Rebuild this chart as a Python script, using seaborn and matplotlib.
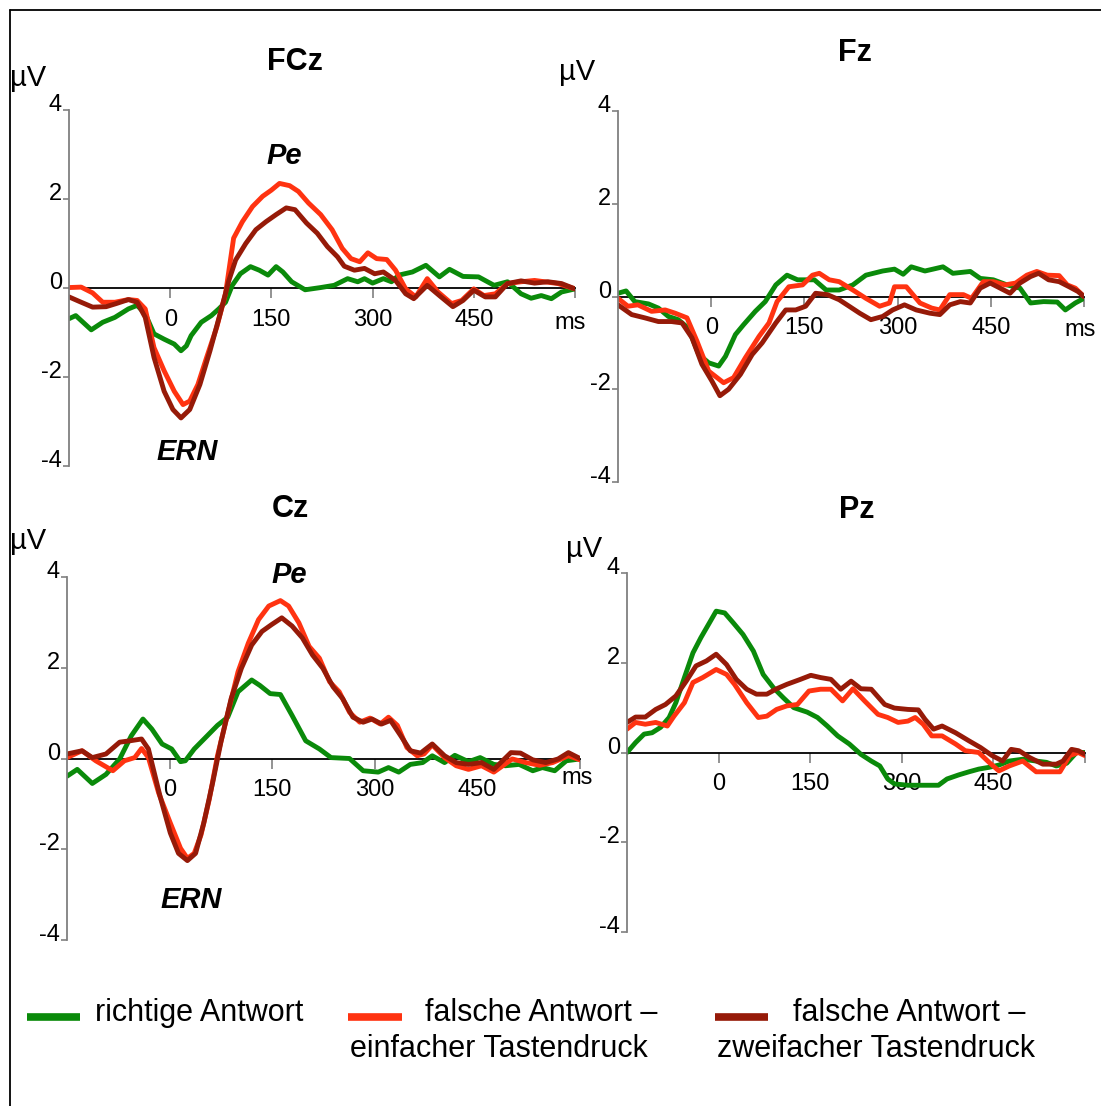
import matplotlib
matplotlib.use("Agg")
import numpy as np
import pandas as pd
import seaborn as sns
import matplotlib.pyplot as plt
from matplotlib.lines import Line2D

# ---------------- data ----------------
TIME_TICKS = [0, 150, 300, 450, 600]
TIME_TICK_LABELS = ["0", "150", "300", "450", ""]
VOLT_TICKS = [-4, -2, 0, 2, 4]
CONDITIONS = ["richtige Antwort",
              "falsche Antwort – einfacher Tastendruck",
              "falsche Antwort – zweifacher Tastendruck"]
COLORS = ["#0A8A0A", "#FF3311", "#961A08"]

# FCz
FCZ_CORRECT_T = [-150, -140, -117, -100, -82, -62, -49, -37, -24, -9, 6, 16, 24, 31, 46, 61, 72, 82, 92, 104, 119, 132, 145, 157, 167, 180, 200, 223, 243, 263, 278, 288, 300, 316, 328, 339, 359, 379, 399, 414, 434, 457, 480, 500, 520, 535, 550, 565, 580, 600]
FCZ_CORRECT_V = [-0.69, -0.62, -0.94, -0.77, -0.66, -0.47, -0.39, -0.58, -1.03, -1.15, -1.26, -1.41, -1.30, -1.07, -0.77, -0.62, -0.47, -0.32, 0.06, 0.32, 0.48, 0.40, 0.29, 0.48, 0.36, 0.14, -0.04, 0.01, 0.06, 0.21, 0.14, 0.21, 0.11, 0.21, 0.14, 0.29, 0.36, 0.51, 0.25, 0.42, 0.26, 0.25, 0.06, 0.14, -0.13, -0.23, -0.17, -0.24, -0.09, -0.02]
FCZ_SINGLE_T = [-150, -132, -115, -100, -82, -62, -49, -37, -24, -9, 6, 19, 29, 41, 54, 69, 82, 94, 107, 122, 137, 150, 162, 177, 190, 205, 223, 240, 255, 268, 281, 293, 306, 321, 334, 349, 364, 381, 397, 417, 432, 450, 465, 482, 500, 520, 540, 555, 575, 600]
FCZ_SINGLE_V = [0.01, 0.02, -0.11, -0.32, -0.32, -0.26, -0.28, -0.47, -1.34, -1.86, -2.32, -2.62, -2.54, -2.17, -1.56, -0.88, -0.13, 1.12, 1.49, 1.83, 2.06, 2.20, 2.35, 2.30, 2.17, 1.91, 1.65, 1.31, 0.89, 0.66, 0.59, 0.79, 0.66, 0.64, 0.40, -0.02, -0.20, 0.21, -0.09, -0.35, -0.28, -0.02, -0.17, -0.13, 0.10, 0.14, 0.17, 0.14, 0.10, -0.02]
FCZ_DOUBLE_T = [-150, -135, -115, -95, -80, -62, -49, -37, -24, -9, 4, 16, 29, 44, 59, 74, 87, 97, 112, 127, 142, 157, 172, 185, 202, 218, 233, 248, 258, 273, 288, 303, 316, 334, 349, 361, 381, 399, 419, 434, 450, 467, 482, 500, 520, 540, 560, 580, 600]
FCZ_DOUBLE_V = [-0.20, -0.30, -0.43, -0.42, -0.35, -0.26, -0.32, -0.66, -1.56, -2.32, -2.73, -2.92, -2.73, -2.17, -1.41, -0.58, 0.17, 0.63, 1.00, 1.31, 1.49, 1.65, 1.80, 1.76, 1.46, 1.23, 0.93, 0.70, 0.49, 0.40, 0.44, 0.32, 0.36, 0.17, -0.13, -0.24, 0.06, -0.17, -0.42, -0.28, -0.05, -0.20, -0.20, 0.10, 0.16, 0.11, 0.14, 0.10, -0.02]

# Fz
FZ_CORRECT_T = [-150, -137, -123, -101, -85, -69, -53, -37, -20, -4, 12, 23, 39, 52, 71, 87, 104, 122, 139, 166, 185, 206, 228, 249, 276, 295, 309, 322, 344, 357, 373, 389, 417, 433, 454, 476, 497, 514, 535, 557, 570, 586, 600]
FZ_CORRECT_V = [0.07, 0.12, -0.11, -0.16, -0.25, -0.43, -0.50, -0.68, -1.25, -1.43, -1.50, -1.29, -0.82, -0.61, -0.32, -0.11, 0.25, 0.46, 0.36, 0.36, 0.14, 0.14, 0.25, 0.46, 0.55, 0.59, 0.48, 0.64, 0.55, 0.59, 0.64, 0.50, 0.54, 0.39, 0.36, 0.25, 0.18, -0.14, -0.11, -0.12, -0.29, -0.14, -0.04]
FZ_SINGLE_T = [-150, -134, -118, -96, -74, -58, -39, -23, -4, 20, 36, 55, 77, 93, 106, 125, 147, 163, 174, 190, 206, 228, 249, 271, 287, 295, 314, 336, 355, 368, 384, 406, 419, 438, 454, 473, 490, 508, 524, 541, 560, 573, 586, 600]
FZ_SINGLE_V = [-0.04, -0.21, -0.18, -0.32, -0.29, -0.36, -0.46, -0.96, -1.61, -1.86, -1.75, -1.32, -0.86, -0.57, -0.11, 0.21, 0.25, 0.46, 0.50, 0.36, 0.32, 0.14, -0.04, -0.21, -0.14, 0.21, 0.21, -0.14, -0.25, -0.29, 0.04, 0.04, -0.04, 0.32, 0.32, 0.25, 0.29, 0.46, 0.54, 0.46, 0.45, 0.25, 0.18, 0.0]
FZ_DOUBLE_T = [-150, -128, -107, -85, -64, -47, -31, -15, 1, 14, 28, 47, 66, 82, 104, 120, 136, 152, 168, 187, 206, 222, 239, 257, 276, 292, 311, 330, 352, 368, 384, 401, 417, 433, 449, 465, 481, 497, 514, 527, 543, 560, 576, 590, 600]
FZ_DOUBLE_V = [-0.18, -0.39, -0.46, -0.54, -0.54, -0.57, -0.89, -1.46, -1.82, -2.14, -2.00, -1.68, -1.25, -1.00, -0.57, -0.29, -0.29, -0.21, 0.07, 0.04, -0.07, -0.21, -0.36, -0.50, -0.43, -0.29, -0.18, -0.29, -0.36, -0.39, -0.18, -0.11, -0.14, 0.18, 0.29, 0.18, 0.07, 0.29, 0.43, 0.50, 0.36, 0.32, 0.21, 0.11, 0.0]

# Cz
CZ_CORRECT_T = [-150, -135, -113, -93, -73, -56, -39, -26, -11, 3, 16, 23, 36, 55, 70, 85, 100, 120, 132, 147, 162, 179, 199, 219, 236, 263, 283, 305, 320, 335, 352, 370, 384, 402, 417, 437, 454, 474, 491, 511, 531, 545, 563, 580, 600]
CZ_CORRECT_V = [-0.39, -0.24, -0.55, -0.35, -0.01, 0.50, 0.87, 0.65, 0.32, 0.21, -0.07, -0.05, 0.21, 0.50, 0.73, 0.91, 1.47, 1.73, 1.61, 1.43, 1.41, 0.95, 0.39, 0.21, 0.02, 0.0, -0.27, -0.30, -0.20, -0.30, -0.13, -0.09, 0.06, -0.09, 0.07, -0.07, 0.02, -0.13, -0.16, -0.13, -0.27, -0.20, -0.27, -0.05, -0.01]
CZ_SINGLE_T = [-150, -128, -108, -83, -66, -51, -41, -31, -16, 1, 16, 26, 36, 46, 58, 70, 85, 100, 115, 130, 145, 162, 174, 189, 204, 219, 234, 248, 263, 278, 293, 308, 320, 333, 347, 362, 372, 384, 402, 419, 437, 456, 474, 501, 521, 541, 560, 583, 600]
CZ_SINGLE_V = [0.02, 0.17, -0.05, -0.27, -0.05, 0.02, 0.22, 0.02, -0.76, -1.42, -1.98, -2.20, -2.09, -1.68, -0.90, 0.06, 0.99, 1.91, 2.54, 3.06, 3.36, 3.48, 3.36, 2.99, 2.47, 2.21, 1.69, 1.47, 1.02, 0.80, 0.89, 0.76, 0.91, 0.73, 0.24, 0.06, 0.10, 0.30, 0.02, -0.16, -0.24, -0.16, -0.30, -0.01, -0.09, -0.15, -0.09, 0.06, -0.03]
CZ_DOUBLE_T = [-150, -128, -113, -93, -73, -58, -41, -31, -14, 1, 13, 26, 38, 50, 63, 75, 90, 105, 120, 135, 149, 164, 179, 194, 209, 224, 239, 253, 268, 283, 296, 310, 323, 338, 352, 367, 384, 402, 419, 437, 456, 474, 499, 513, 531, 550, 568, 583, 600]
CZ_DOUBLE_V = [0.10, 0.17, 0.02, 0.10, 0.36, 0.39, 0.43, 0.21, -0.83, -1.64, -2.09, -2.25, -2.09, -1.42, -0.53, 0.36, 1.32, 1.99, 2.50, 2.80, 2.95, 3.10, 2.92, 2.66, 2.28, 1.99, 1.58, 1.32, 0.91, 0.80, 0.87, 0.76, 0.84, 0.50, 0.17, 0.12, 0.32, 0.06, -0.09, -0.13, -0.09, -0.24, 0.13, 0.12, -0.03, -0.09, -0.01, 0.13, 0.0]

# Pz
PZ_CORRECT_T = [-150, -136, -122, -109, -95, -81, -70, -56, -42, -29, -15, -4, 10, 24, 40, 57, 73, 90, 106, 123, 145, 162, 178, 195, 214, 233, 250, 264, 277, 288, 310, 333, 360, 374, 393, 410, 426, 443, 459, 476, 498, 520, 537, 553, 570, 586, 600]
PZ_CORRECT_V = [0.0, 0.22, 0.41, 0.44, 0.56, 0.78, 1.11, 1.67, 2.22, 2.56, 2.89, 3.15, 3.11, 2.89, 2.63, 2.26, 1.74, 1.44, 1.22, 1.00, 0.90, 0.78, 0.59, 0.37, 0.19, -0.04, -0.19, -0.30, -0.59, -0.70, -0.73, -0.73, -0.73, -0.59, -0.50, -0.43, -0.37, -0.33, -0.28, -0.19, -0.15, -0.19, -0.22, -0.30, -0.24, 0.0, 0.0]
PZ_SINGLE_T = [-150, -136, -120, -103, -84, -73, -56, -42, -26, -4, 13, 26, 46, 65, 79, 95, 112, 129, 148, 167, 184, 203, 220, 239, 261, 277, 294, 310, 322, 335, 349, 366, 388, 404, 426, 443, 459, 476, 498, 520, 542, 559, 575, 589, 600]
PZ_SINGLE_V = [0.52, 0.67, 0.63, 0.67, 0.59, 0.81, 1.11, 1.56, 1.67, 1.85, 1.74, 1.52, 1.11, 0.78, 0.81, 0.96, 1.04, 1.07, 1.37, 1.41, 1.41, 1.15, 1.42, 1.15, 0.85, 0.78, 0.67, 0.70, 0.78, 0.63, 0.37, 0.37, 0.19, 0.04, 0.0, -0.22, -0.41, -0.30, -0.19, -0.43, -0.43, -0.43, -0.07, 0.0, -0.07]
PZ_DOUBLE_T = [-150, -136, -120, -103, -87, -70, -53, -37, -20, -4, 13, 29, 46, 62, 79, 95, 112, 134, 151, 167, 184, 200, 217, 233, 250, 272, 288, 310, 327, 338, 352, 366, 388, 410, 429, 448, 465, 479, 492, 509, 531, 553, 564, 578, 589, 600]
PZ_DOUBLE_V = [0.67, 0.79, 0.79, 0.96, 1.07, 1.26, 1.59, 1.93, 2.04, 2.19, 1.96, 1.63, 1.41, 1.30, 1.30, 1.42, 1.52, 1.63, 1.72, 1.67, 1.63, 1.41, 1.59, 1.42, 1.41, 1.07, 0.99, 0.96, 0.95, 0.74, 0.52, 0.59, 0.44, 0.26, 0.11, -0.07, -0.19, 0.07, 0.04, -0.11, -0.26, -0.26, -0.19, 0.07, 0.04, -0.04]

PANELS = [
    ("FCz", [(FCZ_CORRECT_T, FCZ_CORRECT_V), (FCZ_SINGLE_T, FCZ_SINGLE_V), (FCZ_DOUBLE_T, FCZ_DOUBLE_V)]),
    ("Fz", [(FZ_CORRECT_T, FZ_CORRECT_V), (FZ_SINGLE_T, FZ_SINGLE_V), (FZ_DOUBLE_T, FZ_DOUBLE_V)]),
    ("Cz", [(CZ_CORRECT_T, CZ_CORRECT_V), (CZ_SINGLE_T, CZ_SINGLE_V), (CZ_DOUBLE_T, CZ_DOUBLE_V)]),
    ("Pz", [(PZ_CORRECT_T, PZ_CORRECT_V), (PZ_SINGLE_T, PZ_SINGLE_V), (PZ_DOUBLE_T, PZ_DOUBLE_V)]),
]

# ---------------- style / layout ----------------
sns.set_theme(style="white")
plt.rcParams["font.family"] = ["Liberation Sans", "DejaVu Sans"]
plt.rcParams["text.color"] = "black"
plt.rcParams["xtick.color"] = "black"
plt.rcParams["ytick.color"] = "black"
plt.rcParams["xtick.labelcolor"] = "black"
plt.rcParams["ytick.labelcolor"] = "black"

W, H = 1101, 1106
fig = plt.figure(figsize=(W / 100, H / 100), dpi=100)
fig.patch.set_facecolor("white")

def fx(x):
    return x / W

def fy(y):
    return 1 - y / H

# pixel boxes of the plot areas: left, right, top(+4), bottom(-4)
BOXES = {"FCz": (69, 575, 110, 466), "Fz": (618, 1084, 111, 482),
         "Cz": (67, 580, 577, 940), "Pz": (627, 1085, 573, 932)}
TITLE_POS = {"FCz": (295, 62), "Fz": (855, 53), "Cz": (290, 509), "Pz": (857, 510)}
UV_POS = {"FCz": (28, 78), "Fz": (577, 72), "Cz": (28, 541), "Pz": (584, 549)}
MS_OFFSET = {"FCz": (-5, -35), "Fz": (-4, -33), "Cz": (-3, -19)}

GRAY = "#808080"

for name, series in PANELS:
    l, r, t, b = BOXES[name]
    ax = fig.add_axes([fx(l), fy(b), (r - l) / W, (b - t) / H])
    ax.patch.set_alpha(0)
    frames = []
    for cond, (tt, vv) in zip(CONDITIONS, series):
        frames.append(pd.DataFrame({"t": tt, "v": vv, "cond": cond}))
    df = pd.concat(frames, ignore_index=True)
    sns.lineplot(data=df, x="t", y="v", hue="cond", hue_order=CONDITIONS,
                 palette=COLORS, estimator=None, sort=True, linewidth=3.5,
                 legend=False, ax=ax)
    ax.set_xlim(-150, 600)
    ax.set_ylim(-4, 4)
    ax.set_xlabel("")
    ax.set_ylabel("")
    ax.grid(False)
    for s in ("top", "right"):
        ax.spines[s].set_visible(False)
    ax.spines["bottom"].set_position(("data", 0))
    ax.spines["bottom"].set_color("black")
    ax.spines["bottom"].set_linewidth(1.3)
    ax.spines["bottom"].set_zorder(1)
    ax.spines["left"].set_color(GRAY)
    ax.spines["left"].set_linewidth(1.3)
    ax.set_xticks(TIME_TICKS, TIME_TICK_LABELS)
    ax.tick_params(axis="x", direction="out", length=7, width=1.2,
                   color=GRAY, labelcolor="black", pad=8, labelsize=17,
                   bottom=True)
    ax.set_yticks(VOLT_TICKS, [""] * len(VOLT_TICKS))
    ax.tick_params(axis="y", direction="out", length=4, width=1.2,
                   color=GRAY, left=True)
    for v in VOLT_TICKS:
        ax.annotate(str(v), xy=(0, v), xycoords=("axes fraction", "data"),
                    xytext=(-7, 5), textcoords="offset pixels",
                    ha="right", va="center", fontsize=17, color="black")
    if name in MS_OFFSET:
        ax.annotate("ms", xy=(600, 0), xycoords="data",
                    xytext=MS_OFFSET[name], textcoords="offset pixels",
                    ha="center", va="center", fontsize=17, color="black")
    tx, ty = TITLE_POS[name]
    fig.text(fx(tx), fy(ty), name, ha="center", va="center",
             fontsize=22, fontweight="bold", color="black")
    ux, uy = UV_POS[name]
    fig.text(fx(ux), fy(uy), "µV", ha="center", va="center", fontsize=21,
             color="black")

# component labels
for label, (px, py) in [("Pe", (284, 156)), ("ERN", (187, 452)),
                        ("Pe", (289, 575)), ("ERN", (191, 900))]:
    fig.text(fx(px), fy(py), label, ha="center", va="center", fontsize=21,
             fontweight="bold", fontstyle="italic", color="black")

# legend (manual layout as in the original)
for color, (x0, x1) in zip(COLORS, [(27, 80), (348, 402), (715, 768)]):
    fig.add_artist(Line2D([fx(x0), fx(x1)], [fy(1017), fy(1017)],
                          transform=fig.transFigure, color=color, lw=5.5,
                          solid_capstyle="butt"))
for txt, (px, py) in [("richtige Antwort", (95, 1013)),
                      ("falsche Antwort –", (425, 1013)),
                      ("einfacher Tastendruck", (350, 1049)),
                      ("falsche Antwort –", (793, 1013)),
                      ("zweifacher Tastendruck", (717, 1049))]:
    fig.text(fx(px), fy(py), txt, ha="left", va="center", fontsize=22,
             color="black")

# frame lines (top and left)
fig.add_artist(Line2D([fx(10), 1.0], [fy(10), fy(10)], transform=fig.transFigure,
                      color="black", lw=1.3))
fig.add_artist(Line2D([fx(10), fx(10)], [fy(10), 0.0], transform=fig.transFigure,
                      color="black", lw=1.3))

fig.savefig("out.png", dpi=100, facecolor="white")
